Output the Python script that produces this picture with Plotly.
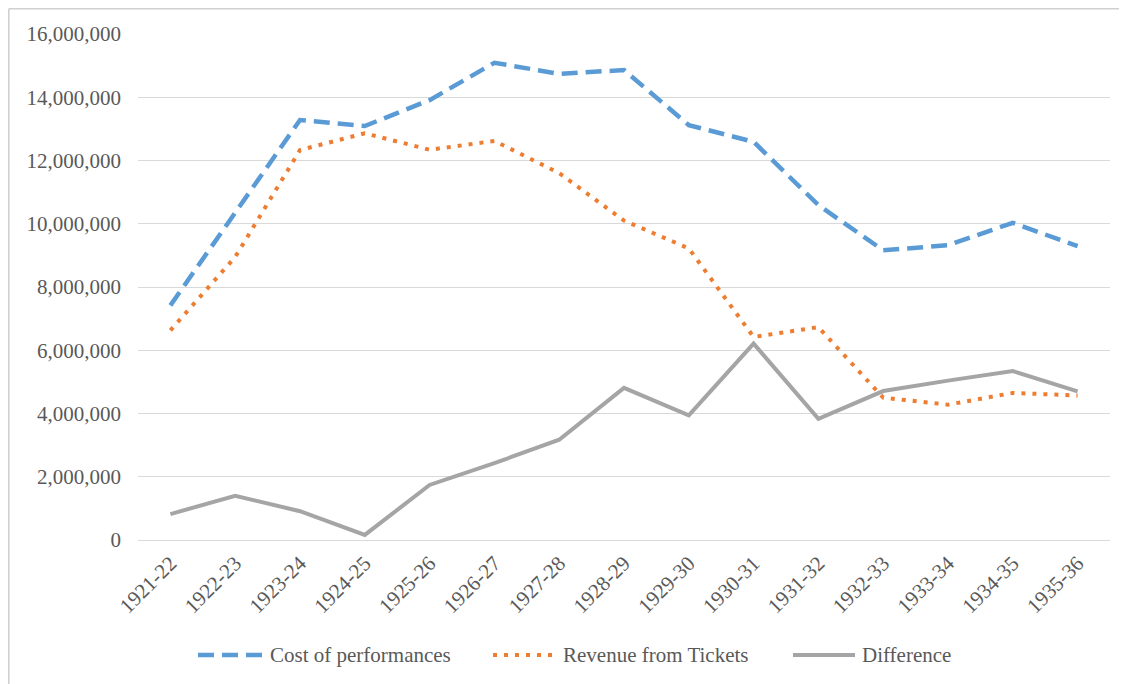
import plotly.graph_objects as go

seasons = ["1921-22", "1922-23", "1923-24", "1924-25", "1925-26", "1926-27", "1927-28",
           "1928-29", "1929-30", "1930-31", "1931-32", "1932-33", "1933-34", "1934-35", "1935-36"]
cost = [7420000, 10350000, 13280000, 13090000, 13910000, 15090000, 14740000,
        14860000, 13120000, 12590000, 10590000, 9160000, 9320000, 10030000, 9290000]
revenue = [6630000, 8950000, 12330000, 12860000, 12340000, 12620000, 11600000,
           10100000, 9220000, 6420000, 6730000, 4500000, 4280000, 4650000, 4570000]
difference = [820000, 1400000, 910000, 160000, 1740000, 2430000, 3170000,
              4810000, 3940000, 6210000, 3830000, 4710000, 5040000, 5340000, 4700000]
series_names = ["Cost of performances", "Revenue from Tickets", "Difference"]
y_ticks = [0, 2000000, 4000000, 6000000, 8000000, 10000000, 12000000, 14000000, 16000000]

FONT = "Liberation Serif"
TXT = "#595959"
colors = ["#5B9BD5", "#ED7D31", "#A5A5A5"]
dashes = ["16px,8px", "4px,7px", "solid"]
widths = [4.5, 4, 4]

W, H = 1119, 676
L, R, T, B = 130, 17, 26, 144
PW, PH = W - L - R, H - T - B


def px(x):
    return (x - L) / PW


def py(y):
    return (H - B - y) / PH


fig = go.Figure()
for name, vals, c, d, w in zip(series_names, [cost, revenue, difference], colors, dashes, widths):
    fig.add_trace(go.Scatter(x=seasons, y=vals, mode="lines", name=name, showlegend=False,
                             line=dict(color=c, width=w, dash=d)))

fig.update_layout(
    width=W, height=H,
    margin=dict(l=L, r=R, t=T, b=B),
    paper_bgcolor="white", plot_bgcolor="white",
    font=dict(family=FONT, color=TXT, size=21),
    showlegend=False,
    xaxis=dict(type="category", range=[-0.5, 14.5], tickangle=-45, showgrid=False,
               showline=False, zeroline=False, ticks="", ticklabelstandoff=6,
               tickfont=dict(family=FONT, size=21, color=TXT)),
    yaxis=dict(range=[0, 16000000], tickvals=y_ticks, tickformat=",d",
               showgrid=True, gridcolor="#D9D9D9", gridwidth=1.2, zeroline=True,
               zerolinecolor="#D9D9D9", zerolinewidth=1.2, showline=False, ticks="",
               ticklabelstandoff=16, tickfont=dict(family=FONT, size=21, color=TXT)),
)

# chart area border (top and left edges visible in reference)
fig.add_shape(type="line", xref="paper", yref="paper", x0=px(0.8), x1=px(W), y0=py(0.8), y1=py(0.8),
              line=dict(color="#D0D0D0", width=1.6))
fig.add_shape(type="line", xref="paper", yref="paper", x0=px(0.8), x1=px(0.8), y0=py(0.8), y1=py(H),
              line=dict(color="#D0D0D0", width=1.6))

# legend drawn manually (long sample lines like the reference)
leg_y = 647
samples = [(190, 254, 260), (485, 547, 553), (785, 847, 852)]
for (x0, x1, xt), name, c, d, w in zip(samples, series_names, colors, dashes, widths):
    fig.add_shape(type="line", xref="paper", yref="paper", x0=px(x0), x1=px(x1),
                  y0=py(leg_y), y1=py(leg_y), line=dict(color=c, width=w, dash=d))
    fig.add_annotation(xref="paper", yref="paper", x=px(xt), y=py(leg_y), text=name,
                       showarrow=False, xanchor="left", yanchor="middle",
                       font=dict(family=FONT, size=21, color=TXT))

fig.write_html("out.html")
